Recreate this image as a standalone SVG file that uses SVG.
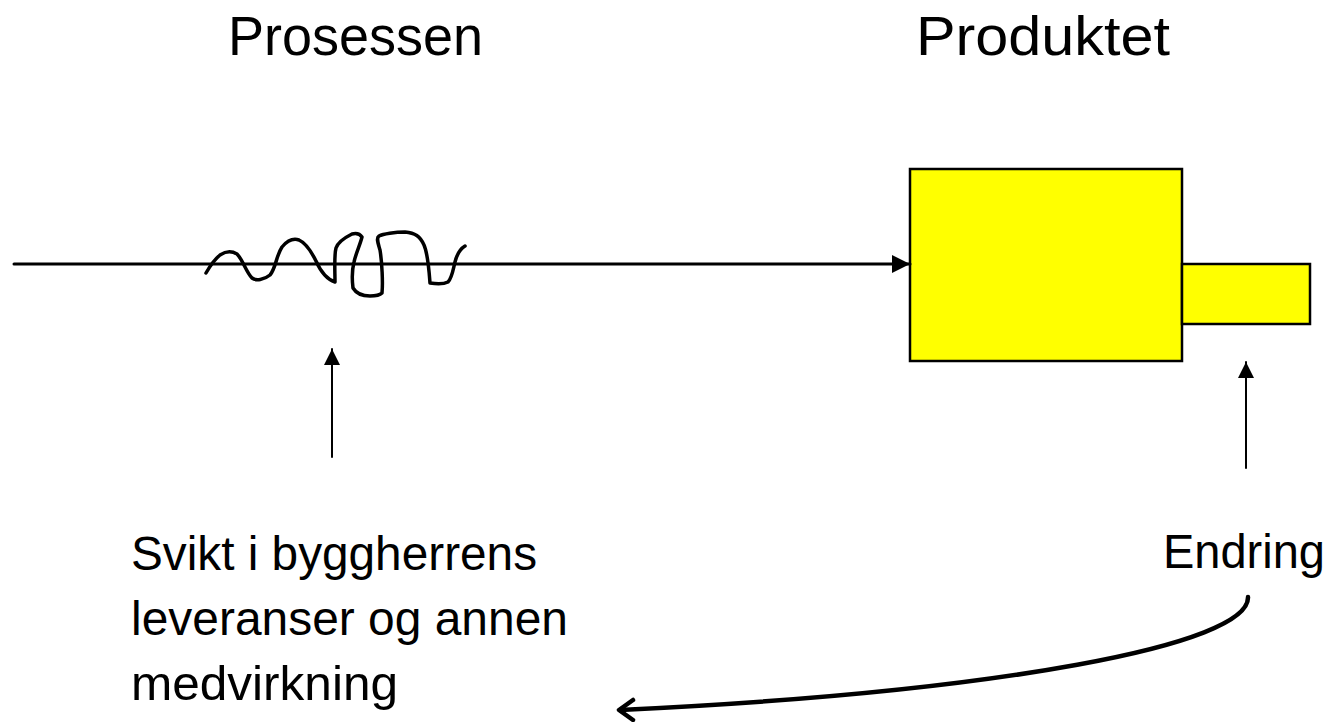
<svg xmlns="http://www.w3.org/2000/svg" width="1333" height="722" viewBox="0 0 1333 722">
<style>
.t{font-family:"Liberation Sans",Arial,sans-serif;fill:#000}
.h{font-size:55px}
.b{font-size:48px}
.box{fill:#ffff00;stroke:#000;stroke-width:2.5}
.ln{fill:none;stroke:#000;stroke-linecap:round;stroke-linejoin:round}
</style>
<defs>
<marker id="tri" viewBox="0 0 10 10" refX="10" refY="5" markerWidth="6" markerHeight="6" markerUnits="strokeWidth" orient="auto">
<path d="M0,0 L10,5 L0,10 z" fill="#000"/>
</marker>
<marker id="tri2" viewBox="0 0 10 10" refX="10" refY="5" markerWidth="8" markerHeight="8" markerUnits="strokeWidth" orient="auto">
<path d="M0,0 L10,5 L0,10 z" fill="#000"/>
</marker>
</defs>
<g id="title-prosessen"><text class="t h" x="228" y="55" textLength="255" lengthAdjust="spacingAndGlyphs">Prosessen</text></g>
<g id="title-produktet"><text class="t h" x="916" y="55" textLength="254" lengthAdjust="spacingAndGlyphs">Produktet</text></g>
<g id="product">
<rect class="box" x="910" y="169" width="272" height="192"/>
<rect class="box" x="1182" y="264" width="128" height="60"/>
</g>
<g id="squiggle">
<path class="ln" stroke-width="3.5" d="M206,273 C210,266 214,260 220,255 C226,251 232,251 237,254 C243,260 246,272 252,278 C256,281 264,280 270,275 C276,268 276,256 282,247 C287,241 293,238 299,240 C306,243 312,253 316,261 C320,270 326,279 335,282 C335,272 334,255 336,248 C338,242 344,238 352,234 C356,233 360,234 362,237 C360,245 356,253 354,262 C352,270 352,280 353,288 C356,293 362,296 370,296 C376,296 380,295 382,293 C383,283 382,262 380,250 C378,243 376,238 379,236 C383,234 395,232 405,232 C415,233 420,236 424,245 C428,254 429,270 430,283 C436,284 444,284 448,282 C452,278 453,270 455,262 C457,254 460,249 465,246"/>
</g>
<g id="connectors">
<line class="ln" stroke-width="3" x1="14" y1="264" x2="910" y2="264" marker-end="url(#tri)"/>
<line class="ln" stroke-width="2" x1="332" y1="457" x2="332" y2="349" marker-end="url(#tri2)"/>
<line class="ln" stroke-width="2" x1="1246" y1="468" x2="1246" y2="362" marker-end="url(#tri2)"/>
<path class="ln" stroke-width="4.5" d="M1248,597 C1250,645 1000,692 620,710"/>
<path class="ln" stroke-width="4.5" d="M633,700 L619,710 L633,720"/>
</g>
<g id="label-svikt">
<text class="t b" x="131" y="570" textLength="406" lengthAdjust="spacingAndGlyphs">Svikt i byggherrens</text>
<text class="t b" x="131" y="635" textLength="437" lengthAdjust="spacingAndGlyphs">leveranser og annen</text>
<text class="t b" x="131" y="700" textLength="267" lengthAdjust="spacingAndGlyphs">medvirkning</text>
</g>
<g id="label-endring"><text class="t b" x="1163" y="568" textLength="162" lengthAdjust="spacingAndGlyphs">Endring</text></g>
</svg>
